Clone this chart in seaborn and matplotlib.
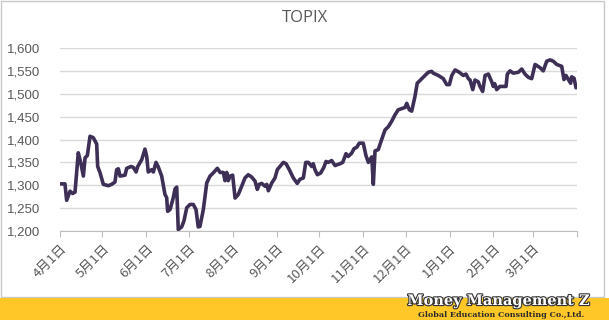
import matplotlib
matplotlib.use("Agg")
import matplotlib.pyplot as plt
import matplotlib.dates as mdates
import matplotlib.patheffects as pe
from matplotlib.patches import Rectangle
import numpy as np
import pandas as pd
import seaborn as sns

# ---- data ----
title = "TOPIX"
start_date = "2016-04-01"
day_offsets = [0, 3.5, 4.7, 7.1, 9.0, 10.6, 12.9, 14.6, 16.5, 17.7, 19.3, 21.2, 23.5, 25.9, 26.6,
               28.2, 30.6, 34.1, 36.5, 38.8, 40.0, 41.2, 42.4, 45.9, 47.1, 50.1, 51.8, 53.7, 54.9,
               57.7, 60.0, 61.2, 62.3, 64.7, 65.9, 67.8, 69.4, 71.8, 74.1, 75.3, 76.0, 77.7, 80.0,
               81.2, 82.4, 83.5, 85.9, 87.5, 89.5, 91.8, 94.1, 96.0, 97.6, 98.8, 101.2, 103.6,
               105.9, 108.2, 111.1, 113.0, 115.3, 116.5, 117.7, 118.8, 120.0, 121.9, 123.6, 125.9,
               128.3, 130.6, 132.9, 135.3, 137.7, 139.3, 140.7, 142.4, 144.7, 146.0, 147.1, 149.5,
               151.8, 153.4, 155.3, 157.7, 159.6, 161.9, 164.7, 167.5, 169.4, 171.8, 173.5, 175.3,
               177.7, 178.8, 180.0, 181.7, 184.1, 186.4, 187.8, 189.4, 191.8, 194.2, 195.8, 197.7,
               199.6, 201.9, 203.5, 205.9, 207.6, 209.5, 211.3, 214.1, 216.0, 217.7, 220.1, 221.2,
               222.4, 224.7, 227.1, 229.5, 231.8, 234.2, 236.5, 238.8, 243.6, 244.8, 246.6, 248.3,
               250.6, 252.2, 255.4, 257.7, 260.0, 262.4, 263.5, 267.1, 270.6, 273.0, 274.9, 276.6,
               278.9, 281.9, 284.7, 286.6, 288.3, 289.5, 291.4, 293.0, 295.3, 296.5, 298.4, 300.1,
               302.4, 304.8, 305.9, 306.9, 308.3, 310.6, 314.9, 315.8, 317.7, 320.1, 323.6, 326.0,
               328.3, 330.6, 333.0, 335.4, 338.9, 341.2, 343.6, 345.9, 348.3, 350.7, 354.2, 355.8,
               357.2, 358.9, 360.5, 361.2, 362.9, 364.3]
topix = [1303, 1303, 1267, 1287, 1282, 1285, 1371, 1350, 1320, 1360, 1365, 1407, 1404, 1390, 1341,
         1328, 1302, 1299, 1302, 1307, 1334, 1336, 1320, 1322, 1337, 1341, 1339, 1329, 1341,
         1356, 1379, 1363, 1329, 1334, 1329, 1350, 1340, 1320, 1280, 1273, 1243, 1247, 1273,
         1292, 1296, 1203, 1209, 1222, 1251, 1258, 1258, 1247, 1209, 1210, 1247, 1305,
         1320, 1327, 1337, 1328, 1328, 1310, 1328, 1310, 1320, 1322, 1272, 1280,
         1298, 1316, 1323, 1318, 1309, 1291, 1302, 1304, 1298, 1302, 1288, 1305,
         1316, 1334, 1341, 1350, 1347, 1334, 1316, 1304, 1313, 1316, 1350, 1350,
         1341, 1347, 1334, 1323, 1327, 1340, 1352, 1350, 1354, 1343, 1345, 1347,
         1350, 1369, 1363, 1370, 1380, 1383, 1392, 1392, 1365, 1350, 1362, 1302,
         1375, 1378, 1400, 1421, 1428, 1440, 1454, 1465, 1470, 1479, 1465, 1462,
         1494, 1523, 1533, 1540, 1547, 1549, 1545, 1540, 1533, 1520, 1520, 1540,
         1552, 1547, 1540, 1543, 1533, 1530, 1509, 1530, 1526, 1516, 1505, 1540,
         1543, 1526, 1516, 1522, 1509, 1516, 1516, 1543, 1550, 1545, 1547, 1554,
         1543, 1536, 1533, 1564, 1557, 1550, 1571, 1574, 1571, 1564, 1560, 1531,
         1540, 1531, 1523, 1537, 1534, 1513]
month_labels = ["4月1日", "5月1日", "6月1日", "7月1日", "8月1日", "9月1日", "10月1日",
                "11月1日", "12月1日", "1月1日", "2月1日", "3月1日", ""]
y_ticks = [1200, 1250, 1300, 1350, 1400, 1450, 1500, 1550, 1600]
brand_line1 = "Money Management Z"
brand_line2 = "Global Education Consulting Co.,Ltd."

dates = pd.Timestamp(start_date) + pd.to_timedelta(day_offsets, unit="D")
df = pd.DataFrame({"date": dates, "TOPIX": topix})

sns.set_theme(style="white")
plt.rcParams["font.family"] = ["Liberation Sans", "Noto Sans CJK JP", "DejaVu Sans"]

W, H = 609, 320
fig = plt.figure(figsize=(W / 100, H / 100), dpi=100)
fig.patch.set_facecolor("white")

# outer chart frame and yellow banner
fig.add_artist(Rectangle((1 / W, 1 - 297 / H), 603 / W, 296 / H, transform=fig.transFigure,
                         facecolor="white", edgecolor="#C8C8C8", lw=1.0, zorder=0))
fig.add_artist(Rectangle((0, 0), 1, 22 / H, transform=fig.transFigure,
                         facecolor="#FFC828", edgecolor="none", zorder=0))

ax = fig.add_axes([60 / W, 1 - 231 / H, 517 / W, 183 / H])
ax.set_facecolor("none")
sns.lineplot(data=df, x="date", y="TOPIX", ax=ax, color="#3D2F55", linewidth=2.6,
             estimator=None, sort=False)

ax.set_xlim(pd.Timestamp("2016-04-01"), pd.Timestamp("2017-04-01"))
ax.set_ylim(1200, 1600)
ax.set_yticks(y_ticks)
ax.set_yticklabels([f"{v:,}" for v in y_ticks], fontsize=9.5, color="#595959")
ax.yaxis.grid(True, color="#D9D9D9", linewidth=1.0)
ax.xaxis.grid(False)

ticks = pd.date_range("2016-04-01", "2017-04-01", freq="MS")
ax.set_xticks(ticks)
ax.set_xticklabels(month_labels, rotation=45, ha="right", va="top", rotation_mode="anchor",
                   fontsize=9.5, color="#595959", family=["Noto Sans CJK JP", "DejaVu Sans"])
ax.tick_params(axis="x", length=4, width=0.8, color="#BFBFBF", pad=4, bottom=True)
ax.tick_params(axis="y", length=0, pad=14)
for lab in ax.get_yticklabels():
    lab.set_horizontalalignment("right")
ax.set_xlabel("")
ax.set_ylabel("")
for s in ["top", "right", "left"]:
    ax.spines[s].set_visible(False)
ax.spines["bottom"].set_color("#BFBFBF")
ax.spines["bottom"].set_linewidth(0.8)

fig.text(305 / W, 1 - 18 / H, title, ha="center", va="center", fontsize=12,
         color="#595959", family=["Open Sans", "DejaVu Sans"])

fig.text(499 / W, 1 - 301 / H, brand_line1, ha="center", va="center", fontsize=10.5,
         color="white", family="DejaVu Serif", fontweight="bold",
         path_effects=[pe.withStroke(linewidth=1.6, foreground="#333333")])
fig.text(501 / W, 1 - 315 / H, brand_line2, ha="center", va="center", fontsize=5.8,
         color="#2a2a2a", family="DejaVu Serif", fontweight="bold")

fig.savefig("out.png", dpi=100, facecolor=fig.get_facecolor())
